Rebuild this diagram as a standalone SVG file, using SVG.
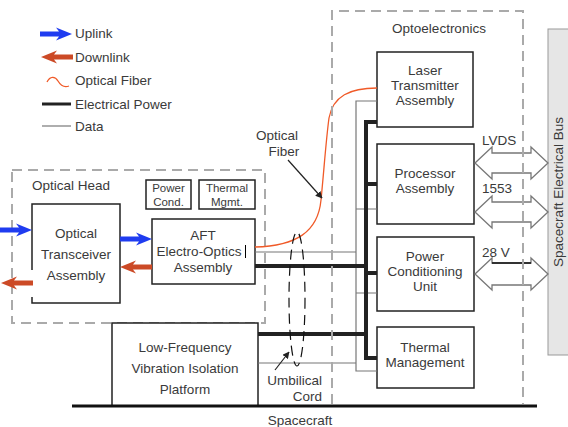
<svg xmlns="http://www.w3.org/2000/svg" width="568" height="427" viewBox="0 0 568 427">
<defs>
<style>
text{font-family:"Liberation Sans",Arial,sans-serif;fill:#3a3a3a;font-size:13.5px}
.c{text-anchor:middle}
.sm{font-size:11.5px}
.box{fill:#fff;stroke:#222;stroke-width:1.5}
.dash{fill:none;stroke:#aaa;stroke-width:2;stroke-dasharray:10,6}
.pwr{stroke:#222;stroke-width:4;fill:none}
.data{stroke:#777;stroke-width:1.2;fill:none}
.fiber{stroke:#f05a28;stroke-width:1.3;fill:none}
.dbl{fill:#fff;stroke:#777;stroke-width:1.3}
.up{fill:#1f3cf0}
.down{fill:#cc4a26}
</style>
<path id="arr" d="M0,-2.5 L19,-2.5 L16,-6.5 L32,0 L16,6.5 L19,2.5 L0,2.5 Z"/>
<marker id="ah" viewBox="0 0 10 10" refX="9" refY="5" markerWidth="7" markerHeight="7" orient="auto" markerUnits="userSpaceOnUse">
<path d="M0,0 L10,5 L0,10 Z" fill="#222"/>
</marker>
</defs>
<rect width="568" height="427" fill="#fff"/>

<g id="legend">
<use href="#arr" class="up" transform="translate(40,34)"/>
<text x="75" y="38">Uplink</text>
<use href="#arr" class="down" transform="translate(73,57) scale(-1,1)"/>
<text x="75" y="62">Downlink</text>
<path class="fiber" d="M47,82 C50,76 55,76 58,81 C61,86 64,88 69,86"/>
<text x="75" y="85">Optical Fiber</text>
<line x1="42" y1="104" x2="71" y2="104" stroke="#222" stroke-width="3"/>
<text x="75" y="109">Electrical Power</text>
<line x1="42" y1="126" x2="71" y2="126" stroke="#777" stroke-width="1.2"/>
<text x="75" y="131">Data</text>
</g>

<g id="optical-head">
<rect class="dash" x="12" y="170" width="253" height="153"/>
<text x="32" y="190">Optical Head</text>
</g>

<g id="power-cond">
<rect class="box" x="146" y="180" width="45" height="29"/>
<text class="c sm" x="168.5" y="192">Power</text>
<text class="c sm" x="168.5" y="206">Cond.</text>
</g>

<g id="thermal-mgmt">
<rect class="box" x="199" y="180" width="56" height="29"/>
<text class="c sm" x="227" y="192">Thermal</text>
<text class="c sm" x="227" y="206">Mgmt.</text>
</g>

<g id="transceiver">
<rect x="32" y="204" width="88" height="99" fill="#fff"/>
<path d="M32,270 L32,204 L120,204 L120,303 L32,303 L32,297" fill="none" stroke="#222" stroke-width="1.5"/>
<text class="c" x="76" y="238">Optical</text>
<text class="c" x="76" y="259">Transceiver</text>
<text class="c" x="76" y="280">Assembly</text>
</g>

<g id="aft">
<rect class="box" x="152" y="219" width="103" height="65"/>
<text class="c" x="203" y="240">AFT</text>
<text class="c" x="199" y="256">Electro-Optics</text>
<line x1="245.5" y1="245" x2="245.5" y2="258" stroke="#000" stroke-width="1"/>
<text class="c" x="203" y="272">Assembly</text>
</g>

<g id="lf-platform">
<rect class="box" x="112" y="323" width="146" height="83"/>
<text class="c" x="185" y="352">Low-Frequency</text>
<text class="c" x="185" y="373">Vibration Isolation</text>
<text class="c" x="185" y="394">Platform</text>
</g>

<g id="laser">
<rect class="box" x="377" y="52" width="96" height="75"/>
<text class="c" x="425" y="75">Laser</text>
<text class="c" x="425" y="90">Transmitter</text>
<text class="c" x="425" y="105">Assembly</text>
</g>

<g id="processor">
<rect class="box" x="377" y="144" width="97" height="80"/>
<text class="c" x="425" y="178">Processor</text>
<text class="c" x="425" y="193">Assembly</text>
</g>

<g id="pcu">
<rect class="box" x="377" y="237" width="97" height="74"/>
<text class="c" x="425" y="261">Power</text>
<text class="c" x="425" y="276">Conditioning</text>
<text class="c" x="425" y="291">Unit</text>
</g>

<g id="thermal">
<rect class="box" x="377" y="327" width="97" height="61"/>
<text class="c" x="425" y="352">Thermal</text>
<text class="c" x="425" y="367">Management</text>
</g>

<g id="bus">
<rect x="548" y="29" width="24" height="326" fill="#e6e6e6" stroke="#999" stroke-width="1"/>
<text class="c" transform="translate(563,192) rotate(-90)">Spacecraft Electrical Bus</text>
</g>

<g id="connectors">
<use href="#arr" class="up" transform="translate(0,230)"/>
<use href="#arr" class="down" transform="translate(33,283) scale(-1,1)"/>
<use href="#arr" class="up" transform="translate(120,239)"/>
<use href="#arr" class="down" transform="translate(152,267) scale(-1,1)"/>

<path class="data" d="M255,252 H356 M377,101 H356 V371 H377 M356,209 H377 M356,293 H377 M258,363 H356"/>
<path class="pwr" d="M255,266 H366 M258,334 H366 M366,120 V360 M366,122 H377 M366,184 H377 M366,273 H377 M366,358 H377"/>
<path class="fiber" d="M255,247 C296,246 318,232 321,200 C324,170 326,140 329,118 C333,96 350,88 377,88"/>

<ellipse cx="297" cy="299" rx="8" ry="67" fill="none" stroke="#111" stroke-width="1.2" stroke-dasharray="10,6"/>

<line x1="288" y1="160" x2="322" y2="198" stroke="#222" stroke-width="1.2" marker-end="url(#ah)"/>
<line x1="275" y1="370" x2="289" y2="352" stroke="#222" stroke-width="1.2" marker-end="url(#ah)"/>

<path class="dbl" d="M475,163 L492,147 L492,153 L531,153 L531,147 L548,163 L531,179 L531,173 L492,173 L492,179 Z"/>
<path class="dbl" d="M475,212 L492,196 L492,202 L531,202 L531,196 L548,212 L531,228 L531,222 L492,222 L492,228 Z"/>
<path class="dbl" d="M475,274 L492,258 L492,263 L531,263 L531,258 L548,274 L531,290 L531,285 L492,285 L492,290 Z"/>
<line x1="492" y1="263" x2="531" y2="263" stroke="#111" stroke-width="1.3"/>

<line x1="72" y1="406" x2="537" y2="406" stroke="#111" stroke-width="3"/>
</g>

<g id="optoelectronics">
<path class="dash" d="M332,404 V11 H523 V404"/>
<text class="c" x="439" y="33">Optoelectronics</text>
</g>

<g id="labels">
<text class="c" x="277" y="140">Optical</text>
<text class="c" x="284" y="156">Fiber</text>
<text x="482" y="145">LVDS</text>
<text x="482" y="193">1553</text>
<text x="482" y="257">28 V</text>
<text x="322" y="385" text-anchor="end">Umbilical</text>
<text x="322" y="401" text-anchor="end">Cord</text>
<text class="c" x="300" y="425">Spacecraft</text>
</g>
</svg>
